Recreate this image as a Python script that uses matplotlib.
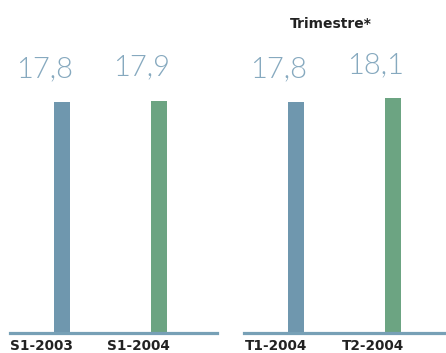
import matplotlib
matplotlib.use("Agg")
import matplotlib.pyplot as plt

# Data
semester_labels = ["S1-2003", "S1-2004"]
semester_values = [17.8, 17.9]
quarter_labels = ["T1-2004", "T2-2004"]
quarter_values = [17.8, 18.1]
quarter_title = "Trimestre*"

BLUE = "#6f97ae"
GREEN = "#6ca482"
LINE = "#77a0b6"
VALUE_COLOR = "#86a9bf"
LABEL_COLOR = "#222222"

W, H = 446, 353
fig = plt.figure(figsize=(W / 100, H / 100), dpi=100)

base_px = 333          # baseline position from the top, in pixels
step_px = 97           # distance between bar centres
bar_w = 16 / step_px


def panel(x0, x1, first_center, labels, values, colors):
    ax = fig.add_axes([x0 / W, (H - base_px) / H, (x1 - x0) / W, base_px / H])
    left = -(first_center - x0) / step_px
    right = (x1 - first_center) / step_px
    ax.set_xlim(left, right)
    ymax = 17.8 * base_px / 231
    ax.set_ylim(0, ymax)
    xs = list(range(len(values)))
    ax.bar(xs, values, width=bar_w, color=colors, zorder=2)
    for s in ["top", "right", "left"]:
        ax.spines[s].set_visible(False)
    ax.spines["bottom"].set_color(LINE)
    ax.spines["bottom"].set_linewidth(2.3)
    ax.spines["bottom"].set_zorder(3)
    ax.set_yticks([])
    ax.set_xticks([])
    ax.patch.set_alpha(0)
    for x, v, lab in zip(xs, values, labels):
        ax.text(x + bar_w / 2 + 0.03, v + 1.55, f"{v:.1f}".replace(".", ","),
                ha="right", va="bottom", fontsize=21, color=VALUE_COLOR,
                family="Lato", fontweight=300)
        ax.annotate(lab, xy=(x + bar_w / 2 + 0.03, 0), xycoords="data",
                    xytext=(0, -(350 - base_px) * 0.72), textcoords="offset points",
                    ha="right", va="baseline", fontsize=9.8, fontweight="bold",
                    color=LABEL_COLOR, family="DejaVu Sans")
    return ax

panel(10, 217, 62, semester_labels, semester_values, [BLUE, GREEN])
panel(244, 446, 296, quarter_labels, quarter_values, [BLUE, GREEN])

fig.text(331 / W, 1 - 24 / H, quarter_title, ha="center", va="center",
         fontsize=10, fontweight="bold", color=LABEL_COLOR)

fig.savefig("out.png", dpi=100)
